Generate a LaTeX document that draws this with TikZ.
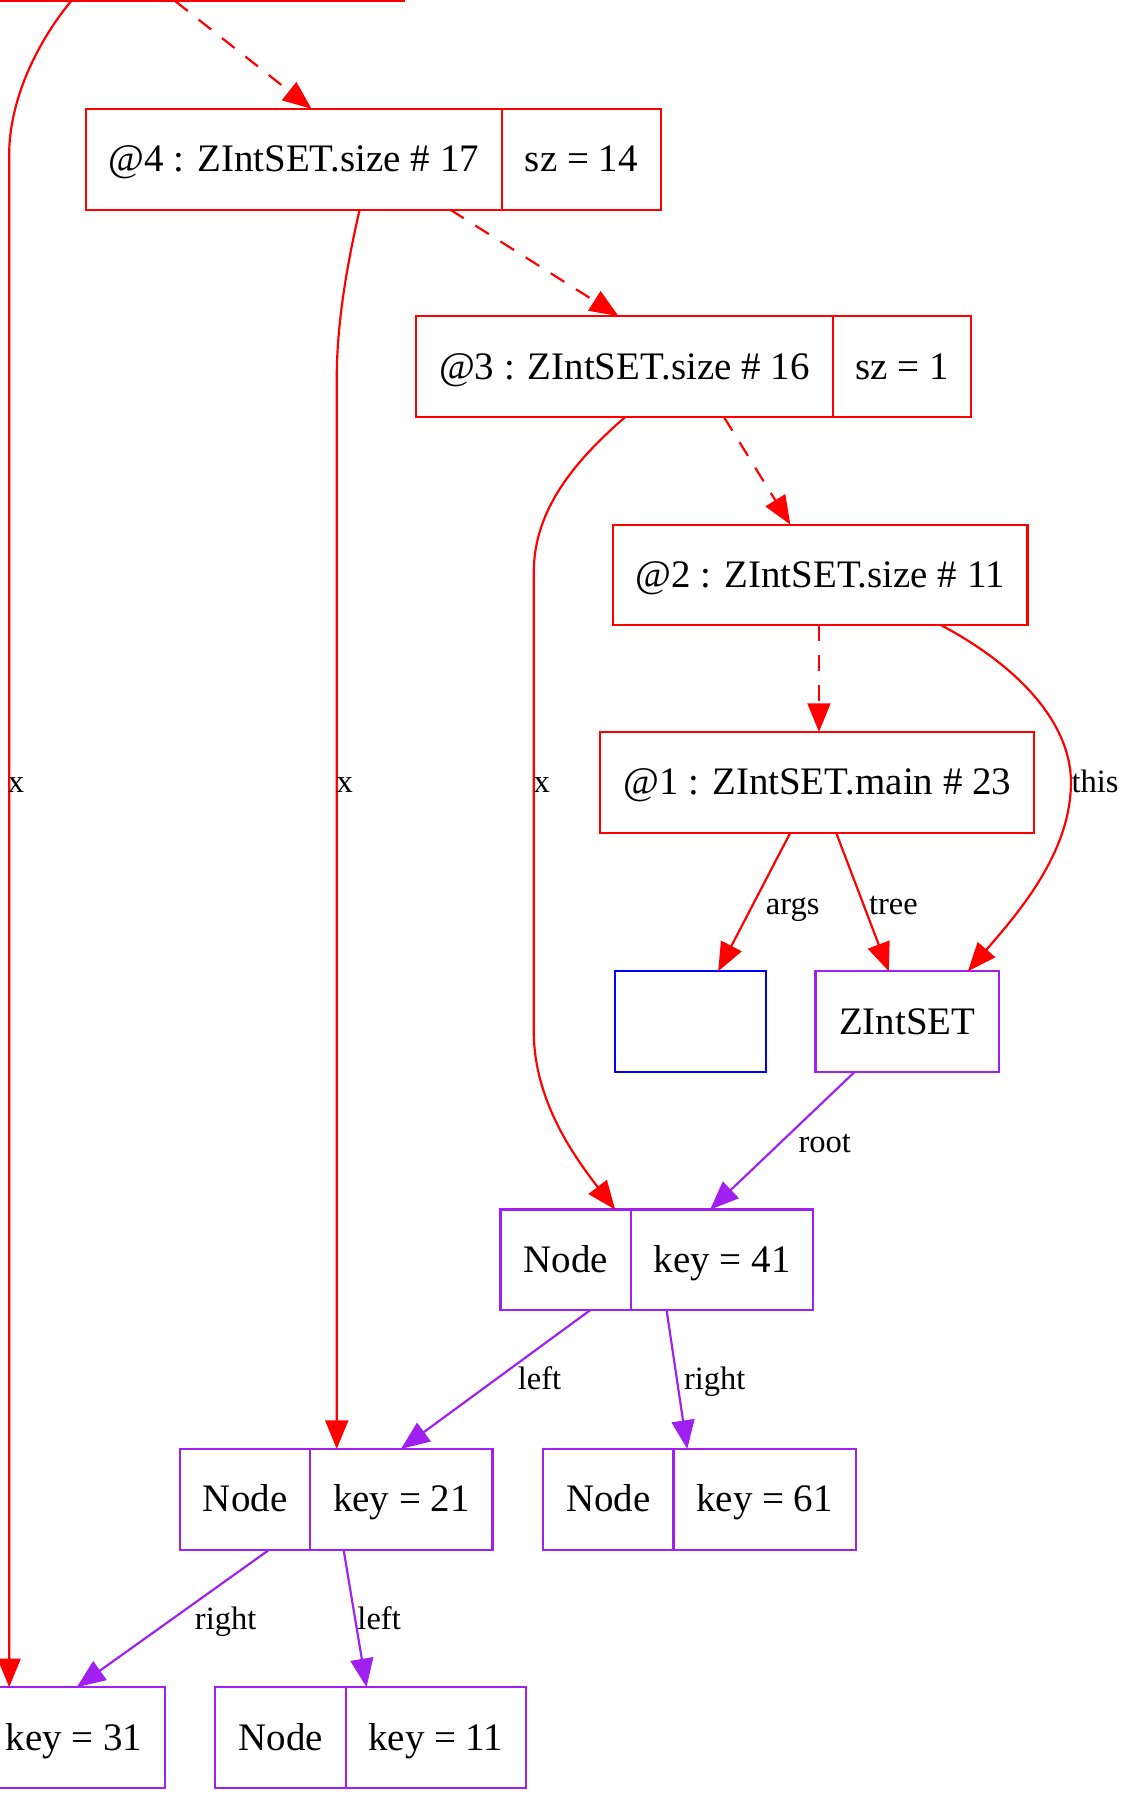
\documentclass[tikz,border=0pt]{standalone}
\usepackage{fontspec}
\setmainfont{Liberation Serif}
\usetikzlibrary{arrows.meta}
\definecolor{gvred}{RGB}{255,0,0}
\definecolor{gvpurple}{RGB}{160,32,240}
\definecolor{gvblue}{RGB}{0,0,255}
\tikzset{
  rec/.style={draw, line width=0.95pt, minimum height=44pt, inner sep=0pt, outer sep=0pt,
    font=\fontsize{17}{20}\selectfont, text height=13pt, text depth=2pt},
  redbox/.style={rec, draw=gvred},
  purbox/.style={rec, draw=gvpurple},
  bluebox/.style={rec, draw=gvblue},
  lbl/.style={inner sep=0pt, font=\fontsize{14.2}{16}\selectfont, text height=11pt, text depth=1.8pt},
  edge/.style={line width=0.95pt, -{Triangle[length=12.5pt,width=10pt]}},
  rededge/.style={edge, draw=gvred},
  puredge/.style={edge, draw=gvpurple},
  dashedge/.style={rededge, dash pattern=on 7pt off 6pt},
}
\begin{document}
\begin{tikzpicture}[x=0.5pt, y=-0.5pt]
\useasboundingbox (0,0) rectangle (984,1568);
\clip (0,0) rectangle (984,1568);
\fill[white] (0,0) rectangle (984,1568);

% nodes
\node[redbox, minimum width=181.5pt] (t1) at (31.5,-43) {};
\node[redbox, minimum width=70pt] (t2) at (283,-43) {};
\node[redbox, minimum width=181.5pt] (a4) at (256.5,139) {@4 : ZIntSET.size \# 17};
\node[redbox, minimum width=69.5pt] (b4) at (507.5,139) {sz = 14};
\node[redbox, minimum width=182pt] (a3) at (545,320) {@3 : ZIntSET.size \# 16};
\node[redbox, minimum width=60.5pt] (b3) at (787.5,320) {sz = 1};
\node[redbox, minimum width=181pt] (n2) at (716,502) {@2 : ZIntSET.size \# 11};
\node[redbox, minimum width=189.5pt] (n1) at (713.5,683) {@1 : ZIntSET.main \# 23};
\node[bluebox, minimum width=66pt] (bl) at (603,892) {};
\node[purbox, minimum width=80pt] (zs) at (792,892) {ZIntSET};
\node[purbox, minimum width=57pt] (k41a) at (494,1100) {Node};
\node[purbox, minimum width=79.5pt] (k41b) at (630.5,1100) {key = 41};
\node[purbox, minimum width=57pt] (k21a) at (214,1309) {Node};
\node[purbox, minimum width=79.5pt] (k21b) at (350.5,1309) {key = 21};
\node[purbox, minimum width=57pt] (k61a) at (531,1309) {Node};
\node[purbox, minimum width=79.5pt] (k61b) at (667.5,1309) {key = 61};
\node[purbox, minimum width=57pt] (k31a) at (-72,1517) {};
\node[purbox, minimum width=79.5pt] (k31b) at (64.5,1517) {key = 31};
\node[purbox, minimum width=57pt] (k11a) at (245,1517) {Node};
\node[purbox, minimum width=78.5pt] (k11b) at (380.5,1517) {key = 11};

% edges
\draw[rededge] ([xshift=15.25pt]t1.south) .. controls (30,40) and (8,90) .. (8,135) -- ([xshift=-28.25pt]k31b.north);
\draw[dashedge] ([xshift=60.75pt]t1.south) -- ([xshift=7.75pt]a4.north);
\draw[rededge] ([xshift=28.75pt]a4.south) .. controls (302,235) and (294,285) .. (294,330) -- ([xshift=-28.25pt]k21b.north);
\draw[dashedge] ([xshift=68.25pt]a4.south) -- ([xshift=-2.5pt]a3.north);
\draw[rededge] ([xshift=0.5pt]a3.south) .. controls (495,408) and (466,450) .. (466,500) -- (466,900) .. controls (466,960) and (500,1008) .. ([xshift=21.5pt]k41a.north);
\draw[dashedge] ([xshift=43.5pt]a3.south) -- ([xshift=-13pt]n2.north);
\draw[dashedge] ([xshift=-0.5pt]n2.south) -- ([xshift=0.75pt]n1.north);
\draw[rededge] ([xshift=53pt]n2.south) .. controls (895,585) and (935,635) .. (935,683) .. controls (935,745) and (888,798) .. ([xshift=26.5pt]zs.north);
\draw[rededge] ([xshift=-11.75pt]n1.south) -- ([xshift=12pt]bl.north);
\draw[rededge] ([xshift=8.25pt]n1.south) -- ([xshift=-8pt]zs.north);
\draw[puredge] ([xshift=-23pt]zs.south) -- ([xshift=-5.25pt]k41b.north);
\draw[puredge] ([xshift=10.5pt]k41a.south) -- ([xshift=-0.25pt]k21b.north);
\draw[puredge] ([xshift=-24.25pt]k41b.south) -- ([xshift=-33.75pt]k61b.north);
\draw[puredge] ([xshift=10.5pt]k21a.south) -- ([xshift=1.25pt]k31b.north);
\draw[puredge] ([xshift=-25.25pt]k21b.south) -- ([xshift=-30.25pt]k11b.north);

% edge labels
\node[lbl] (lx1) at (14,683) {x};
\node[lbl] (lx2) at (301,683) {x};
\node[lbl] (lx3) at (473,683) {x};
\node[lbl] (lthis) at (956,683) {this};
\node[lbl] (largs) at (692,789) {args};
\node[lbl] (ltree) at (780,789) {tree};
\node[lbl] (lroot) at (720,997) {root};
\node[lbl] (lleft1) at (471,1204) {left};
\node[lbl] (lright1) at (624,1204) {right};
\node[lbl] (lright2) at (197,1413) {right};
\node[lbl] (lleft2) at (331,1413) {left};
\end{tikzpicture}
\end{document}
